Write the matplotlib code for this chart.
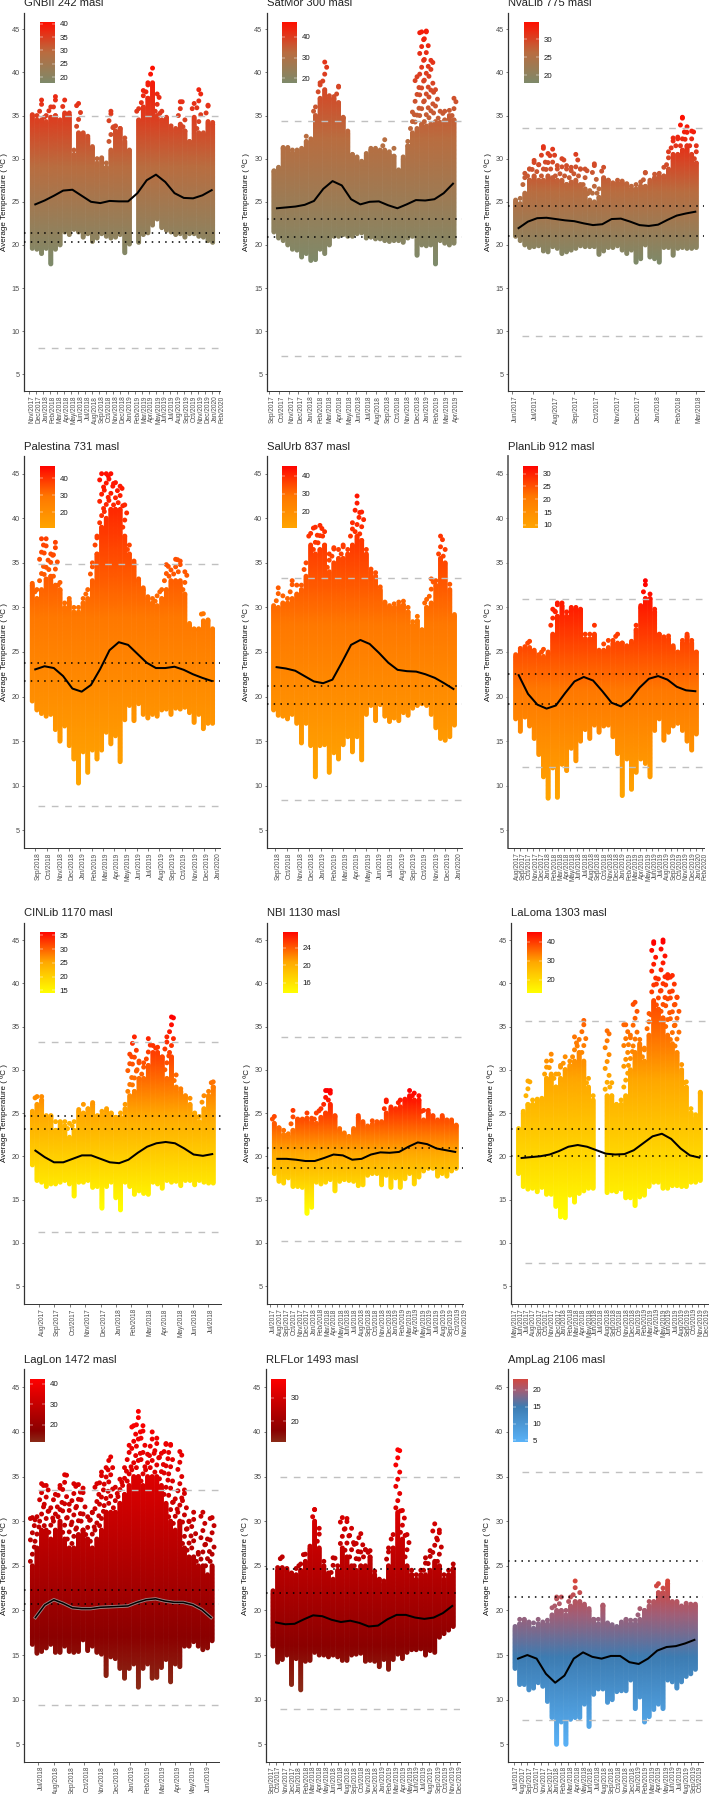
import numpy as np
import pandas as pd
import matplotlib
matplotlib.use("Agg")
import matplotlib.pyplot as plt
from matplotlib.colors import LinearSegmentedColormap
from matplotlib.transforms import ScaledTranslation

plt.rcParams['font.family'] = ['Liberation Sans', 'DejaVu Sans']
nan = float('nan')

# ---------- data ----------
titles = ["GNBII 242 masl", "SatMor 300 masl", "NvaLib 775 masl",
          "Palestina 731 masl", "SalUrb 837 masl", "PlanLib 912 masl",
          "CINLib 1170 masl", "NBI 1130 masl", "LaLoma 1303 masl",
          "LagLon 1472 masl", "RLFLor 1493 masl", "AmpLag 2106 masl"]
first_month = ["2017-11", "2017-09", "2017-06", "2018-09", "2018-09", "2017-08",
               "2017-08", "2017-07", "2017-05", "2018-07", "2017-09", "2017-07"]
n_months = [28, 20, 10, 17, 17, 31, 12, 29, 32, 12, 28, 28]
span_start = [0.47, 0.48, 0.16, -0.27, -0.15, 0.27, -0.43, 0.59, 1.02, -0.39, 0.62, 0.2]
span_end = [26.1, 19.07, 9.0, 15.76, 15.8, 29.05, 11.32, 27.2, 30.4, 11.42, 26.5, 26.66]
dash_hi = [35, 34.4, 33.5, 34.85, 33.3, 30.9, 33.2, 33.8, 35.6, 33.5, 34.95, 35.5]
dash_lo = [8, 7.1, 9.45, 7.7, 8.35, 12.05, 11.2, 10.2, 7.7, 9.4, 8.95, 7.75]
dot_hi = [21.4, 22.95, 24.5, 23.75, 21.2, 22.5, 24.6, 20.9, 23.1, 22.3, 24.6, 25.5]
dot_lo = [20.3, 20.9, 21.0, 21.8, 19.2, 19.2, 23.1, 18.65, 20.0, 20.7, 21.9, 21.45]
cb_min = [18, 18, 18, 10.6, 11, 8.7, 13.9, 13.6, 12.8, 11.6, 11.4, 4.6]
cb_max = [40.5, 47, 34.7, 47.4, 45.5, 33.1, 36.2, 27.6, 45, 42.6, 38, 23.4]
cb_ticks = [[20, 25, 30, 35, 40], [20, 30, 40], [20, 25, 30], [20, 30, 40], [20, 30, 40],
            [10, 15, 20, 25, 30], [15, 20, 25, 30, 35], [16, 20, 24], [20, 30, 40],
            [20, 30, 40], [20, 30], [5, 10, 15, 20]]

upper_gnb = [35,34.5,34.5,34.3,34.8,35,34.2,35.3,35,30.5,
             33,32.8,32.4,31.2,29.5,30,29,31,33.2,33.5,
             32,31,nan,34.5,36,37,38.8,35,34.5,34.7,
             33.5,33.3,34,33.2,32,34.8,33,32.8,34.3,34]
peak_gnb = [35.1,35,36.8,35,36,37.2,34.5,36.8,35.3,31,
            36.4,33,32.6,31.4,30,30.1,29.5,35.5,33.8,33.5,
            32.4,31,nan,35.8,37.9,38.8,40.5,37.5,35.5,34.8,
            33.8,33.5,36.6,34.5,32,36.4,38,33,36.2,34.2]
lower_gnb = [19.6,19.5,19,19.6,17.8,19.5,20,21.5,21.2,21.8,
             21.5,20.9,21.3,20.4,20.8,21.3,21,20.8,20.9,21.2,
             19.1,20.1,nan,20.3,21.2,21.4,22.3,23,22,21.7,
             21.5,21.2,21.3,20.9,21.3,21.3,21,20.9,20.5,20.3]
smooth_gnb = [24.7,25.15,25.7,26.3,26.4,25.7,25,24.85,25.1,25.05,25.05,26,27.5,28.15,27.3,26,25.45,25.4,25.75,26.35]

upper_sat = [28.5,28.9,31.2,31.2,30.7,30.7,31,32,32,35,
             37,38,37,37,36.5,34.7,33,30.5,30,29.5,
             30.4,31,31,30.8,31,30.5,30.3,28.6,30,31.5,
             33,33.5,34,33.8,34,34.3,34.2,34.5,35,34.5]
peak_sat = [28.6,29,31.3,31.3,31,31,31.2,32.6,32.3,36,
            38.8,41.2,37.3,37.2,38.4,34.8,33.2,30.5,30.2,29.7,
            30.6,31.2,31.2,31,32.2,30.8,31.2,28.7,30.2,32,
            35.4,39.5,44.7,44.8,41.4,38,35.5,35.5,35.6,37]
lower_sat = [21.5,20.8,20.5,20,19.5,19.4,18.6,19,18.2,18.3,
             19.5,19,20,21,21,21.2,21,21,21.3,21.4,
             20.8,20.9,20.7,20.7,20.5,20.4,20.5,20.5,20.3,20.8,
             21,18.8,20,19.9,20,17.8,20.5,20.2,20,20.2]
smooth_sat = [24.25,24.35,24.45,24.65,25.1,26.5,27.4,26.9,25.3,24.7,25,25.05,24.6,24.25,24.7,25.2,25.15,25.3,26,27.1]

upper_nva = [25,24.8,26,27.5,28,27.5,27.5,28,27.8,27.5,
             27.5,27,27.3,27.5,27,26.5,25.2,25,25.5,27.8,
             27.5,27,27.2,27.2,27,26.5,26.5,26.8,26.8,27.3,
             27.8,28,28,28.8,30.5,30.5,31,31.5,30.5,29.5]
peak_nva = [25.2,25.4,28.3,28.8,29.8,29.3,31.4,30.6,31.1,29.2,
            30,29.2,29,30.5,28.8,28.8,26.3,29.4,26.5,29,
            27.5,27.2,27.5,27.4,27.1,26.8,27,27.3,28.4,27.5,
            28.2,28.3,29,30.8,32.4,32.5,34.8,33.7,33.2,31.5]
lower_nva = [21,20.5,20,19.7,19.8,19.9,19.3,19.2,19.8,19.6,
             19,19.2,19.4,19.6,19.9,19.8,19.8,19.8,18.9,19.3,
             19.7,19.7,19.9,19.4,19,19.4,18,18.4,20,18.6,
             18.4,18,19.7,19.7,18.8,19.6,19.7,19.6,19.6,19.7]
smooth_nva = [21.95,22.7,23.1,23.15,23,22.85,22.75,22.5,22.3,22.4,23,23.05,22.7,22.3,22.2,22.35,22.9,23.4,23.65,23.85]

upper_pal = [32.5,31,32,33.2,33.5,32.5,32,30,30.7,29.5,
             29.5,30.5,31,33,36,39,40,41,41,41,
             38,36,35,33,32,31,30.5,30.2,31,32,
             33,33,33,31.5,28,27.5,27.5,28.5,28.5,27.5]
peak_pal = [32.7,32,37.7,37.7,36,37.3,32.8,30.5,31,30,
            30,31,32,35,38,45,45,45,44,43.6,
            41.5,37,35.2,33.2,32.2,31.2,31,31.3,32,34.8,
            34.2,35.4,35.2,34,28.2,27.6,27.6,29.3,28.6,27.6]
lower_pal = [19.5,18.5,18.1,17.8,18,16.3,15,16.7,14.5,13,
             10.3,13.8,11.5,14,13,14,16,14.7,15.6,12.7,
             17.4,19,17.3,19.2,18,17.6,18,17.8,18.5,18.6,
             18,18.7,18.6,18.8,18.2,17.1,18,16.4,17,17]
smooth_pal = [23.05,23.4,23.2,22.3,20.9,20.55,21.3,23.1,25.2,26.1,25.8,24.8,23.8,23.2,23.2,23.35,23,22.5,22.1,21.75]

upper_sal = [30,30,30.5,30.5,31,31.5,32,33.5,37,36,
             36.5,37,34,35,35.5,35.5,36,37,38,37.5,
             36,34,33.5,32,30.5,30,30,30.2,30.3,29.5,
             28,28.5,27.5,30,30.5,32.5,35.5,35,32,29]
peak_sal = [30.2,32.2,31.3,31,33,32.5,32.5,35,38.3,39,
            39.2,38.5,36,36.7,36.5,37,36.5,39.5,42.5,40.7,
            36.5,34.3,33.9,32.3,30.6,30.2,30.4,30.6,30.7,30,
            28.4,29,27.5,30.9,33.2,33,38,36.5,32.6,29.2]
lower_sal = [18.5,17.9,17.8,17.5,18,17,14.8,17,14.5,11,
             14.5,14.6,11.5,13.7,13,14.6,15.5,13.8,15.5,12.9,
             18,19,17.3,19.1,17.8,17.2,17.6,17.3,18.2,17.9,
             18.7,19,19.2,19,18,16.5,15.3,15.1,15.5,16.8]
smooth_sal = [23.3,23.15,22.9,22.3,21.7,21.5,21.9,23.8,25.8,26.35,25.9,24.9,23.8,23,22.85,22.8,22.5,22.1,21.5,20.85]

upper_pla = [24.5,25.2,25.4,25.5,25,24.5,24.5,24.8,27,29,
             30.2,29,29.8,29.8,29.7,26.5,26.5,27,25,25.2,
             25.5,26,26,26,25.5,26,27.5,30,31,31,
             29.5,27,26.5,26.5,25.5,25,26,26.8,26,25]
peak_pla = [24.7,25.4,25.6,26.2,25.2,24.7,25.3,25,29.8,30.5,
            30.5,29.5,30,30,29.8,27,27,28,25.2,25.9,
            26.3,26.3,27,26,25.7,26.2,28,30.2,33,31.5,
            29.8,27,26.7,26.8,25.7,25,26.3,27,26.3,25]
lower_pla = [17.5,16.1,17.7,16.7,15.3,13.5,11,8.6,12,8.7,
             12.4,11.7,14.2,12.8,15,16.3,15.3,16.8,16,16.7,
             16.8,15.5,13.6,8.9,13,9.6,11.5,13,12.5,11,
             16.2,17.5,15.1,16,16.7,17,16.2,15,14,15.8]
smooth_pla = [22.4,20.3,19.1,18.65,19,20.4,21.7,22.2,21.8,20.6,19.3,18.9,19.7,21,22,22.3,21.9,21.1,20.7,20.6]

upper_cin = [25,26,26.5,24.5,24.7,23,24,23.5,22.2,23,
             25.2,25,25.5,26,24.5,24.8,25.3,25,24.5,24.5,
             25.5,27,27.5,29,29,30.5,32,32,31.5,29,
             31.5,28,27.5,27,26,25,24,25.5,27,28]
peak_cin = [25.2,26.9,26.9,24.7,24.7,24,24,24,23.8,24,
            25.4,26,25.5,26.2,24.7,25.2,25.5,24.9,24.5,25,
            26,31.8,33.8,31,30.8,33.6,32.8,32.6,29,33.8,
            36.1,29.4,27.8,27,26.7,25,24.6,27,27.5,28.6]
lower_cin = [19,17.2,17,16.5,16.8,16.8,17,17.2,16.8,15.4,
             17,17,17.2,16.4,16.5,14,16.5,17,15.2,13.8,
             17,16.5,15.6,16,15.7,15.6,17,16.8,16.3,17.2,
             17,17.1,16.6,17.2,17.2,16.7,17.2,17,16.9,16.9]
smooth_cin = [20.65,19.9,19.3,19.3,19.7,20.1,20.1,19.7,19.3,19.2,19.6,20.4,21.1,21.5,21.65,21.5,20.9,20.2,20.05,20.25]

upper_nbi = [23.8,23.3,22.5,22.3,23,24.2,24.2,24.4,24,23.8,
             24.5,25,26,24.6,23,22.5,22,23,24.5,23.8,
             23.3,23.7,24,24,25,25.5,25.5,25.7,26.5,27,
             26.5,26.5,24.2,25,24.7,24,24.5,24,24,23.5]
peak_nbi = [24.6,23.3,23,22.6,25.3,24.3,24.3,25,24.4,25,
            25.5,27.6,27.6,24.7,23.2,22.7,22.3,23.2,24.7,24,
            23.5,24.1,24,24,26.5,25.7,25.5,26.5,26.6,27.6,
            27.3,27,25.3,25.3,24.7,24.2,24.7,24.2,24.2,23.6]
lower_nbi = [18,17.1,16.9,17.5,16.5,16.5,16.4,13.4,14.1,17,
             16.8,17,17.3,16,17.1,17.3,17.2,17.1,16.6,16.7,
             17.8,18,18,16.7,17.8,16.4,17.5,16.4,17.4,18,
             16.8,17.6,18.3,18.6,18.6,17.7,18,17.7,18.3,18.6]
smooth_nbi = [19.7,19.7,19.6,19.45,19.45,19.8,20.2,20.1,19.6,19.7,20.2,20.45,20.4,20.5,21.1,21.6,21.4,20.9,20.7,20.5]

upper_lal = [23,25,26,26,26.5,26.5,29,29.5,28,29,
             30,30.5,31,32,31,28,26.5,nan,nan,27,
             27,26,26,27,30,32,33,31,34,38,
             37,36,34,33,32,30,28,25,24.5,27.3]
peak_lal = [23.2,25.2,28.7,26.5,26.6,26.7,31,31.8,29.5,30.5,
            31.5,31,33.8,33.5,35.7,29,27,nan,nan,34.5,
            28.5,26,26.5,35.2,34,37.8,33.5,32.5,36.5,44.8,
            40.5,45,41,40.9,38.4,30.6,28.6,25.5,24.8,27.4]
lower_lal = [18,16.5,16.2,16.3,15.9,16.4,15.6,15.6,14.2,13,
             12.9,15.5,14.7,15.7,16,16.3,16.3,nan,nan,15.8,
             16,15.9,16.2,15.2,15.2,14.3,15.3,15.5,16.5,17,
             17,16.3,16.3,16.6,16.6,16.5,16.5,17,17,17.2]
smooth_lal = [19.8,19.9,20,20.2,20.6,21.1,21.3,21.1,20.7,20.3,20.2,20.25,20.7,21.5,22.3,22.6,22,20.9,20.1,19.85]

upper_lag = [25,27,29,29,28,29,30,28,27,27,
             28.5,29,28,27,28,29,31,31,31,32,
             33,34,35,35,34,35,35,35,34,32,
             30,29,30,27,26,26,25,25,24,25]
peak_lag = [30.4,30.5,34.2,34,31.5,33,34,35.2,31.9,34.2,
            34.1,33.7,30.5,31,34.2,35.5,36,37.2,33.8,34.7,
            36,38.5,40.7,42.3,40.7,37.5,40,39.3,37.6,38.7,
            38.6,32.5,37.8,33.5,30,31,26.5,31,28,30.4]
lower_lag = [16.2,15.2,15.4,15.8,16.2,15.3,15.3,16,15.4,15.3,
             15.4,16.7,15.5,16,15.3,15.1,12.7,14.8,14.6,13.5,
             12.4,13.5,14,11.4,13.5,14,12.4,12.5,13.6,14.5,
             12,14,13.7,16,16,16.5,16,15.6,15.8,16.6]
smooth_lag = [19.2,20.6,21.2,20.8,20.3,20.2,20.2,20.35,20.4,20.45,20.5,20.9,21.2,21.3,21.05,20.9,20.9,20.65,20.1,19.2]

upper_rlf = [22,24.5,24.8,24.5,24.2,24,24.5,25.5,27,30,
             27,25,24,23.5,24.5,27,26,25,24.5,25,
             25,26,24,23.5,23,25,27,31,28,25,
             24,23.5,24,24,24.5,25.5,25,23.5,24,24.7]
peak_rlf = [22.2,24.8,26,24.7,24.2,24.7,25.2,26.3,27.2,31.3,
            29.2,25.5,24.2,25.9,25,30.4,30.3,29.2,27.5,28.6,
            26.8,26.7,24.4,23.4,23.3,27,28.5,38,31.2,28.5,
            24.5,24,24.5,25.9,26.7,29.7,29,24,24.5,25.2]
lower_rlf = [16,14.2,14.5,15,11.7,14.6,11.1,14.3,14.4,15.3,
             15,15,14.8,15,14.8,14.4,14.4,15,15.1,15.2,
             14.3,14.4,14.3,13.7,14.5,13.4,14.5,15.1,14.6,15.3,
             15.6,15.6,15.7,15,15.5,15.3,17,17.4,17.8,18.2]
smooth_rlf = [18.65,18.45,18.5,19,19.45,19.35,18.95,18.7,18.85,18.6,18.2,18.3,19,19.5,19.5,19.2,19.05,19.2,19.7,20.5]

upper_amp = [18,18.5,19,18.5,18,18.5,18.5,18.5,19.5,20,
             20,19.5,20.5,21,21,20.5,20,19,18.5,20.5,
             18.5,18.2,18,18.5,19,18.5,18.5,19,20,20.5,
             21,22,22,23,21,21,20.5,20.5,20.5,20.5]
peak_amp = [18.2,19,19,18.7,18.6,19,18.7,18.9,20.3,21.5,
            21.5,20,21.5,23.3,22,20.7,20.2,18.9,19,20.6,
            18.6,18.4,18.2,18.7,19,18.9,18.9,20.2,20,21,
            21,23,22.5,23.3,21,21,20.5,20.8,20.7,20.7]
lower_amp = [13.5,11.7,11.7,11.1,11.3,11.9,11.5,9.8,8,5,
             7.5,5,7.8,8,8,9.5,7,10.6,11.2,11.2,
             9.7,10,10.9,11,11,12.2,9,10.3,7.5,8.1,
             8.9,9.5,9,12.2,12,11.3,12,12.6,12.9,13.4]
smooth_amp = [14.6,15,14.6,12.9,11.9,12.7,14.6,15.3,14.8,14.6,14.9,14.9,14.2,14,14.6,15.5,15.9,16,16.3,16.7]

uppers = [upper_gnb, upper_sat, upper_nva, upper_pal, upper_sal, upper_pla,
          upper_cin, upper_nbi, upper_lal, upper_lag, upper_rlf, upper_amp]
peaks = [peak_gnb, peak_sat, peak_nva, peak_pal, peak_sal, peak_pla,
         peak_cin, peak_nbi, peak_lal, peak_lag, peak_rlf, peak_amp]
lowers = [lower_gnb, lower_sat, lower_nva, lower_pal, lower_sal, lower_pla,
          lower_cin, lower_nbi, lower_lal, lower_lag, lower_rlf, lower_amp]
smooths = [smooth_gnb, smooth_sat, smooth_nva, smooth_pal, smooth_sal, smooth_pla,
           smooth_cin, smooth_nbi, smooth_lal, smooth_lag, smooth_rlf, smooth_amp]

# ---------- styling / layout (pixels in the 709x1794 frame) ----------
W, H = 709, 1794
cm_olive = LinearSegmentedColormap.from_list("o", [(0, "#7e8a6a"), (.5, "#b96d40"), (1, "#ff0f00")])
cm_orange = LinearSegmentedColormap.from_list("a", [(0, "#ffa500"), (.5, "#ff7800"), (1, "#ff0000")])
cm_yellow = LinearSegmentedColormap.from_list("y", [(0, "#ffff00"), (.5, "#ffa800"), (1, "#ff0000")])
cm_dark = LinearSegmentedColormap.from_list("d", [(0, "#8a2a17"), (.18, "#8b0000"), (1, "#ff0000")])
cm_blue = LinearSegmentedColormap.from_list("b", [(0, "#5ab3f8"), (.55, "#3d7cb2"), (.8, "#a05f78"), (1, "#d7443a")])
cmaps = [cm_olive] * 3 + [cm_orange] * 3 + [cm_yellow] * 3 + [cm_dark] * 2 + [cm_blue]

rows_px = [(13, 391.5), (456.3, 848.3), (922.7, 1304), (1369.3, 1761.7)]
y45_px = [29.3, 473.7, 940, 1387.3]
y5_px = [374.3, 830.3, 1286, 1744.3]
cols_px = [[(24.3, 220), (266.7, 462), (508.3, 703.7)],
           [(24.3, 220.3), (266.7, 462), (508, 703.7)],
           [(24.3, 220.5), (267.3, 463), (511.3, 707.7)],
           [(24.3, 219.3), (265.7, 460.3), (507.7, 703)]]
ticks_px = [(29, 219), (269.3, 453.3), (512.3, 696.3),
            (35.3, 215.3), (275.3, 456.7), (514, 702.3),
            (39, 208.3), (270.3, 461.7), (512.3, 704),
            (38.3, 205.7), (268.7, 456.7), (513.7, 697.7)]
cb_left = [15.3] * 9 + [5.3] * 3
cb_h = [60.3, 62.7, 61.3, 63]

fig = plt.figure(figsize=(W / 100, H / 100), dpi=100)
for i in range(12):
    r, c = i // 3, i % 3
    top, bot = rows_px[r]
    left, right = cols_px[r][c]
    w, h = right - left, bot - top
    ax = fig.add_axes([left / W, 1 - bot / H, w / W, h / H])
    k = (y5_px[r] - y45_px[r]) / 40
    ax.set_ylim(5 - (bot - y5_px[r]) / k, 45 + (y45_px[r] - top) / k)
    n = n_months[i]
    t0, t1 = ticks_px[i]
    step = (t1 - t0) / (n - 1)
    ax.set_xlim((left - t0) / step, (right - t0) / step)

    up, pk, lo = np.array(uppers[i]), np.array(peaks[i]), np.array(lowers[i])
    xs = np.linspace(span_start[i], span_end[i], len(up))
    dx = xs[1] - xs[0]
    px, py = [], []
    for j, x in enumerate(xs):
        if np.isnan(up[j]):
            continue
        col = list(np.arange(lo[j], up[j], 0.15)) + [up[j]]
        px += [x] * len(col)
        py += col
        if pk[j] > up[j]:
            # thinner scatter between the solid body and the column's highest reading
            sparse = np.arange(up[j] + 0.5 + (j % 3) * 0.25, pk[j], 0.8)
            px += [x + (m % 3 - 1) * 0.42 * dx for m in range(len(sparse))] + [x]
            py += list(sparse) + [pk[j]]
    px, py = np.array(px), np.array(py)
    order = np.argsort(py)
    ax.scatter(px[order], py[order], c=py[order], cmap=cmaps[i], vmin=cb_min[i], vmax=cb_max[i],
               s=12.5, linewidths=0, zorder=2)

    fx0 = 14 / w
    for v in (dash_hi[i], dash_lo[i]):
        ax.axhline(v, xmin=fx0, color="#c0c0c0", lw=1.0, dashes=(4.8, 4.8), zorder=3)
    for v in (dot_hi[i], dot_lo[i]):
        ax.axhline(v, color="black", lw=1.1, dashes=(1, 3.4), zorder=4)
    sx = np.linspace(span_start[i] + 3 / step, span_end[i] - 1 / step, len(smooths[i]))
    if titles[i].startswith("LagLon"):
        ax.plot(sx, smooths[i], color="#a08080", lw=2.4, zorder=4.5, solid_joinstyle="round")
    ax.plot(sx, smooths[i], color="black", lw=1.45 if not titles[i].startswith("LagLon") else 1.1,
            zorder=5, solid_joinstyle="round")

    for s in ("top", "right"):
        ax.spines[s].set_visible(False)
    ax.spines["left"].set_color("#333333" if i != 5 else "#666666")
    ax.spines["left"].set_linewidth(0.9 if i != 5 else 1.3)
    ax.spines["bottom"].set_color("#333333")
    ax.spines["bottom"].set_linewidth(0.7)
    ax.set_yticks(range(5, 50, 5))
    ax.tick_params(axis="y", length=1.6, width=0.5, color="#444444", labelsize=5.2,
                   labelcolor="#4d4d4d", pad=1.5)
    months = pd.date_range(first_month[i] + "-01", periods=n, freq="MS")
    ax.set_xticks(range(n))
    ax.set_xticklabels([m.strftime("%b/%Y") for m in months], rotation=90, ha="center", va="top")
    ax.tick_params(axis="x", length=1.8, width=0.5, color="#444444", labelsize=4.7,
                   labelcolor="#4d4d4d", pad=1.2)
    off = ScaledTranslation(3.0 / 100, 0, fig.dpi_scale_trans)
    for lab in ax.get_xticklabels():
        lab.set_transform(lab.get_transform() + off)

    ax.set_ylabel("Average Temperature ( ºC )", fontsize=5.8, color="#111111")
    ax.yaxis.set_label_coords(-16.5 / w, 0.5)
    ax.text(0, 1 + 6.5 / h, titles[i], transform=ax.transAxes, fontsize=8.1, color="#222222",
            ha="left", va="baseline", clip_on=False)

    # colour legend
    ch = cb_h[r]
    cax = fig.add_axes([(left + cb_left[i]) / W, 1 - (top + 9.3 + ch) / H, 15 / W, ch / H])
    grad = np.linspace(cb_min[i], cb_max[i], 256).reshape(-1, 1)
    cax.imshow(grad, origin="lower", aspect="auto", cmap=cmaps[i], vmin=cb_min[i], vmax=cb_max[i],
               extent=(0, 1, cb_min[i], cb_max[i]))
    for s in cax.spines.values():
        s.set_visible(False)
    cax.set_xticks([])
    cax.set_yticks(cb_ticks[i])
    cax.yaxis.tick_right()
    cax.tick_params(axis="y", length=2.2, width=0.35, color="white", direction="in", labelsize=5.7,
                    labelcolor="#1a1a1a", pad=3.5, left=True)

fig.savefig("out.png", dpi=100)
